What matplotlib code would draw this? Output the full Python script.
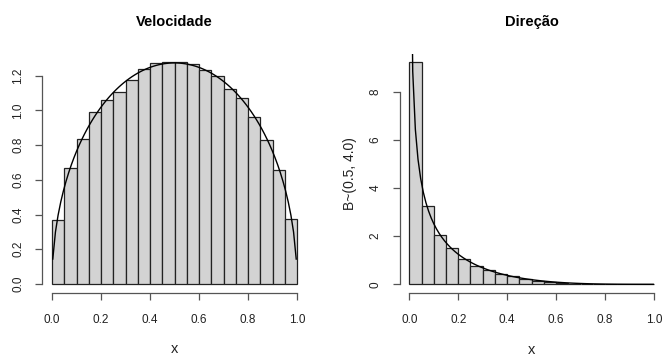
import math
import numpy as np
import matplotlib
matplotlib.use("Agg")
import matplotlib.pyplot as plt

plt.rcParams['font.family'] = ['Liberation Sans', 'DejaVu Sans']

# ---- data ----
breaks = [round(0.05 * i, 2) for i in range(21)]
vel_density = [0.368, 0.669, 0.836, 0.989, 1.062, 1.104, 1.173, 1.238, 1.273, 1.277,
               1.277, 1.265, 1.234, 1.200, 1.121, 1.070, 0.964, 0.828, 0.658, 0.374]
dir_density = [9.23, 3.27, 2.05, 1.50, 1.07, 0.78, 0.61, 0.43, 0.33, 0.22,
               0.14, 0.09, 0.06, 0.03, 0.015, 0.0, 0.0, 0.0, 0.0, 0.0]
vel_params = (1.5, 1.5)
dir_params = (0.5, 4.0)
titles = ["Velocidade", "Direção"]
ylabels = ["", "B~(0.5, 4.0)"]
xticks = [0.0, 0.2, 0.4, 0.6, 0.8, 1.0]
xtick_labels = ["0.0", "0.2", "0.4", "0.6", "0.8", "1.0"]
vel_yticks = [0.0, 0.2, 0.4, 0.6, 0.8, 1.0, 1.2]
vel_ytick_labels = ["0.0", "0.2", "0.4", "0.6", "0.8", "1.0", "1.2"]
dir_yticks = [0, 2, 4, 6, 8]
dir_ytick_labels = ["0", "2", "4", "6", "8"]


def beta_pdf(x, a, b):
    B = math.gamma(a) * math.gamma(b) / math.gamma(a + b)
    x = np.asarray(x, dtype=float)
    out = np.zeros_like(x)
    m = (x > 0) & (x < 1)
    out[m] = x[m] ** (a - 1) * (1 - x[m]) ** (b - 1) / B
    return out


fig = plt.figure(figsize=(6.71, 3.56), dpi=100)
W, H = 671.0, 356.0

panels = [
    dict(rect=(42.2, 53.4, 306.8, 292.9), dens=vel_density, params=vel_params,
         yticks=vel_yticks, ylabs=vel_ytick_labels, title=titles[0], ylabel=ylabels[0]),
    dict(rect=(399.5, 53.5, 663.8, 293.2), dens=dir_density, params=dir_params,
         yticks=dir_yticks, ylabs=dir_ytick_labels, title=titles[1], ylabel=ylabels[1]),
]

for p in panels:
    x0, y0, x1, y1 = p['rect']
    ax = fig.add_axes([x0 / W, 1 - y1 / H, (x1 - x0) / W, (y1 - y0) / H])
    dens = p['dens']
    ymax = max(dens)
    lefts = breaks[:-1]
    widths = [breaks[i + 1] - breaks[i] for i in range(len(lefts))]
    ax.bar(lefts, dens, width=widths, align='edge', color='#D3D3D3',
           edgecolor='#222222', linewidth=0.9)
    xs = np.linspace(-0.04, 1.04, 101)
    xs = xs[(xs > 0) & (xs < 1)]
    ax.plot(xs, beta_pdf(xs, *p['params']), color='black', lw=1.0)
    ax.set_xlim(-0.04, 1.04)
    ax.set_ylim(-0.04 * ymax, 1.04 * ymax)
    for s in ['top', 'right']:
        ax.spines[s].set_visible(False)
    ax.spines['left'].set_bounds(p['yticks'][0], p['yticks'][-1])
    ax.spines['bottom'].set_bounds(0, 1)
    for s in ['left', 'bottom']:
        ax.spines[s].set_color('#555555')
        ax.spines[s].set_linewidth(0.9)
    ax.set_xticks(xticks)
    ax.set_xticklabels(xtick_labels)
    ax.set_yticks(p['yticks'])
    ax.set_yticklabels(p['ylabs'], rotation=90, va='center')
    ax.tick_params(direction='out', length=5, width=0.9, color='#555555',
                   labelsize=8.5, labelcolor='#222222')
    ax.tick_params(axis='x', pad=10)
    ax.tick_params(axis='y', pad=8)
    ax.set_title(p['title'], fontsize=10.5, fontweight='bold', pad=20)
    ax.set_xlabel('x', fontsize=10.5, color='#222222', labelpad=12)
    if p['ylabel']:
        ax.set_ylabel(p['ylabel'], fontsize=10, color='#222222', labelpad=9)

fig.savefig('out.png', dpi=100)
